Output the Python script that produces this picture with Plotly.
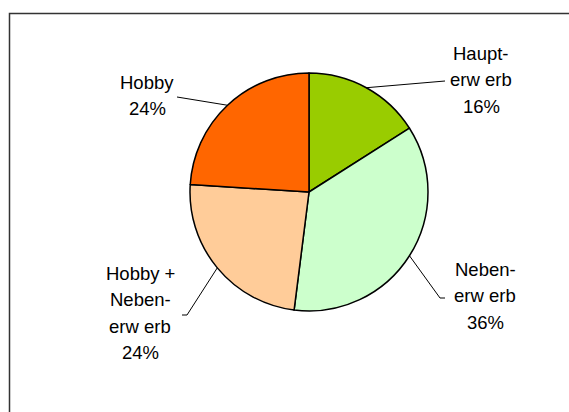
import math
import plotly.graph_objects as go

# ---- data ----
categories = ["Haupterwerb", "Nebenerwerb", "Hobby + Nebenerwerb", "Hobby"]
label_lines = [["Haupt-", "erw erb"], ["Neben-", "erw erb"], ["Hobby +", "Neben-", "erw erb"], ["Hobby"]]
values = [16, 36, 24, 24]
colors = ["#99CC00", "#CCFFCC", "#FFCC99", "#FF6600"]

W, H = 569, 412
CX, CY, R = 309, 192, 119  # pie centre / radius in px

def px(x):
    return x / W

def py(y):
    return 1 - y / H

fig = go.Figure()
fig.add_trace(go.Pie(
    labels=categories, values=values, sort=False, direction="clockwise", rotation=0,
    marker=dict(colors=colors, line=dict(color="black", width=1.5)),
    textinfo="none", hoverinfo="label+percent", showlegend=False,
    domain=dict(x=[px(CX - R), px(CX + R)], y=[py(CY + R), py(CY - R)]),
))

# label layout: (text centre x, first baseline y, leader-line path after pie edge)
label_layout = [
    (481, 60, [(445, 81)]),
    (485, 276, [(440, 298), (445, 298)]),
    (140, 280, [(187, 315), (182, 315)]),
    (147, 89, [(177, 97)]),
]
LINE_H = 26.5
FS = 18.5

total = sum(values)
cum = 0
shapes = []
annotations = []
for i, v in enumerate(values):
    mid = (cum + v / 2) / total
    cum += v
    th = 2 * math.pi * mid
    sx, sy = CX + R * math.sin(th), CY - R * math.cos(th)
    tx, ty0, pts = label_layout[i]
    path = f"M {px(sx)} {py(sy)}" + "".join(f" L {px(x)} {py(y)}" for x, y in pts)
    shapes.append(dict(type="path", path=path, xref="paper", yref="paper",
                       line=dict(color="black", width=1)))
    lines = label_lines[i] + [f"{round(100 * v / total)}%"]
    for j, t in enumerate(lines):
        base = ty0 + j * LINE_H
        annotations.append(dict(
            x=px(tx), y=py(base - FS * 0.36), xref="paper", yref="paper",
            text=t, showarrow=False, xanchor="center", yanchor="middle",
            font=dict(family="Liberation Sans, Arial", size=FS, color="black"),
        ))

# chart-area border (only top and left edges are visible)
border_path = f"M {px(9.5)} {py(430)} L {px(9.5)} {py(13.5)} L {px(600)} {py(13.5)}"
shapes.append(dict(type="path", xref="paper", yref="paper", path=border_path,
                   line=dict(color="#333333", width=1.5), layer="below"))

fig.update_layout(
    width=W, height=H, margin=dict(l=0, r=0, t=0, b=0),
    paper_bgcolor="white", plot_bgcolor="white",
    shapes=shapes, annotations=annotations,
)

fig.write_html(
    "out.html",
    config={"displayModeBar": False},
    post_script="document.body.style.margin='0';document.body.style.overflow='hidden';",
)
